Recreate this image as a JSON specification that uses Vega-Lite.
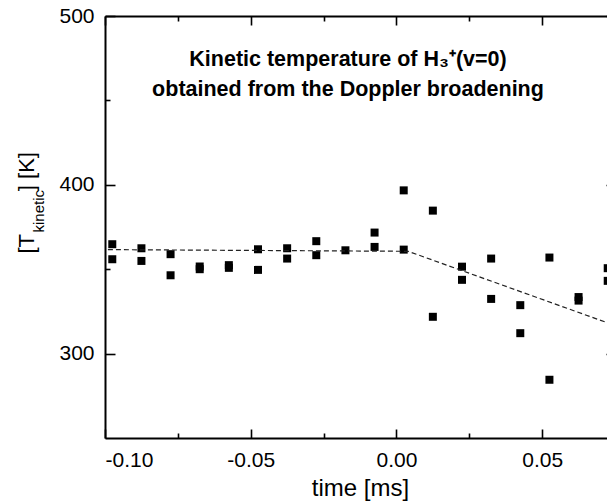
{
  "$schema": "https://vega.github.io/schema/vega-lite/v6.json",
  "autosize": "none",
  "width": 510,
  "height": 422,
  "padding": {"left": 105, "top": 16, "right": -8, "bottom": 63},
  "background": "white",
  "title": {
    "text": ["Kinetic temperature of H₃⁺(v=0)", "obtained from the Doppler broadening"],
    "orient": "top",
    "anchor": "middle",
    "frame": "group",
    "offset": -112,
    "baseline": "alphabetic",
    "lineHeight": 30,
    "dx": -12,
    "font": "Liberation Sans",
    "fontSize": 21.5,
    "fontWeight": "bold",
    "color": "black"
  },
  "datasets": {
    "pts": [
      {"t": -0.0975, "T": 364.8}, {"t": -0.0975, "T": 355.9},
      {"t": -0.0875, "T": 362.4}, {"t": -0.0875, "T": 354.9},
      {"t": -0.0775, "T": 358.9}, {"t": -0.0775, "T": 346.4},
      {"t": -0.0675, "T": 351.6}, {"t": -0.0675, "T": 350.0},
      {"t": -0.0575, "T": 352.4}, {"t": -0.0575, "T": 350.8},
      {"t": -0.0475, "T": 361.8}, {"t": -0.0475, "T": 349.6},
      {"t": -0.0375, "T": 362.4}, {"t": -0.0375, "T": 356.3},
      {"t": -0.0275, "T": 366.6}, {"t": -0.0275, "T": 358.3},
      {"t": -0.0175, "T": 361.2},
      {"t": -0.0075, "T": 371.7}, {"t": -0.0075, "T": 363.2},
      {"t": 0.0025, "T": 396.7}, {"t": 0.0025, "T": 361.6},
      {"t": 0.0125, "T": 384.7}, {"t": 0.0125, "T": 321.8},
      {"t": 0.0225, "T": 351.5}, {"t": 0.0225, "T": 343.7},
      {"t": 0.0325, "T": 356.3}, {"t": 0.0325, "T": 332.4},
      {"t": 0.0425, "T": 328.7}, {"t": 0.0425, "T": 312.1},
      {"t": 0.0525, "T": 356.9}, {"t": 0.0525, "T": 284.5},
      {"t": 0.0625, "T": 333.5}, {"t": 0.0625, "T": 331.4},
      {"t": 0.0725, "T": 350.6}, {"t": 0.0725, "T": 343.1}
    ],
    "fit": [
      {"t": -0.099, "T": 361.6},
      {"t": 0.004, "T": 360.6},
      {"t": 0.0725, "T": 318.2}
    ]
  },
  "resolve": {"axis": {"x": "independent", "y": "independent"}},
  "layer": [
    {
      "data": {"name": "pts"},
      "mark": {"type": "point", "shape": "square", "filled": true, "size": 64, "color": "black", "opacity": 1},
      "encoding": {
        "x": {"field": "t", "type": "quantitative",
          "scale": {"domain": [-0.1, 0.075], "nice": false, "zero": false},
          "axis": {"orient": "bottom", "values": [-0.1, -0.05, 0, 0.05], "tickSize": -9, "labelPadding": 20,
            "labelExpr": "(datum.value < 0 ? '-' : '') + format(abs(datum.value), '.2f')",
            "title": "time [ms]", "titleFontSize": 24, "titleBaseline": "alphabetic", "titleY": 57}},
        "y": {"field": "T", "type": "quantitative",
          "scale": {"domain": [250, 500], "nice": false, "zero": false},
          "axis": {"orient": "left", "values": [300, 400, 500], "tickSize": -10, "labelPadding": 21,
            "title": "[T\u00a0\u00a0\u00a0\u00a0\u00a0\u00a0\u00a0] [K]", "titleFontSize": 22, "titleAngle": 270, "titleAlign": "left",
            "titleBaseline": "bottom", "titleX": -67, "titleY": 237}}
      }
    },
    {
      "data": {"name": "fit"},
      "mark": {"type": "line", "strokeDash": [5, 3], "strokeWidth": 1.2, "color": "#222222"},
      "encoding": {
        "x": {"field": "t", "type": "quantitative",
          "scale": {"domain": [-0.1, 0.075], "nice": false, "zero": false},
          "axis": {"orient": "top", "values": [-0.1, -0.05, 0, 0.05], "tickSize": -9, "labels": false, "title": null}},
        "y": {"field": "T", "type": "quantitative",
          "scale": {"domain": [250, 500], "nice": false, "zero": false},
          "axis": {"orient": "right", "values": [300, 400, 500], "tickSize": -9, "labels": false, "title": null}}
      }
    },
    {
      "data": {"name": "fit"},
      "mark": {"type": "point", "opacity": 0},
      "encoding": {
        "x": {"field": "t", "type": "quantitative",
          "scale": {"domain": [-0.1, 0.075], "nice": false, "zero": false},
          "axis": {"orient": "bottom", "values": [-0.075, -0.025, 0.025, 0.075], "tickSize": -5, "labels": false, "domain": false, "title": null}},
        "y": {"field": "T", "type": "quantitative",
          "scale": {"domain": [250, 500], "nice": false, "zero": false},
          "axis": {"orient": "left", "values": [350, 450], "tickSize": -5, "labels": false, "domain": false,
            "title": "kinetic", "titleFontSize": 15, "titleAngle": 270, "titleAlign": "left",
            "titleBaseline": "alphabetic", "titleX": -62, "titleY": 216}}
      }
    },
    {
      "data": {"name": "fit"},
      "mark": {"type": "point", "opacity": 0},
      "encoding": {
        "x": {"field": "t", "type": "quantitative",
          "scale": {"domain": [-0.1, 0.075], "nice": false, "zero": false},
          "axis": {"orient": "top", "values": [-0.075, -0.025, 0.025, 0.075], "tickSize": -5, "labels": false, "domain": false, "title": null}},
        "y": {"field": "T", "type": "quantitative",
          "scale": {"domain": [250, 500], "nice": false, "zero": false},
          "axis": {"orient": "right", "values": [350, 450], "tickSize": -5, "labels": false, "domain": false, "title": null}}
      }
    }
  ],
  "config": {
    "view": {"stroke": null},
    "axis": {
      "grid": false,
      "domainColor": "black",
      "domainWidth": 2,
      "tickColor": "black",
      "tickWidth": 1.6,
      "labelColor": "black",
      "labelFont": "Liberation Sans",
      "labelFontSize": 21,
      "titleFont": "Liberation Sans",
      "titleColor": "black",
      "titleFontWeight": "normal"
    }
  }
}
